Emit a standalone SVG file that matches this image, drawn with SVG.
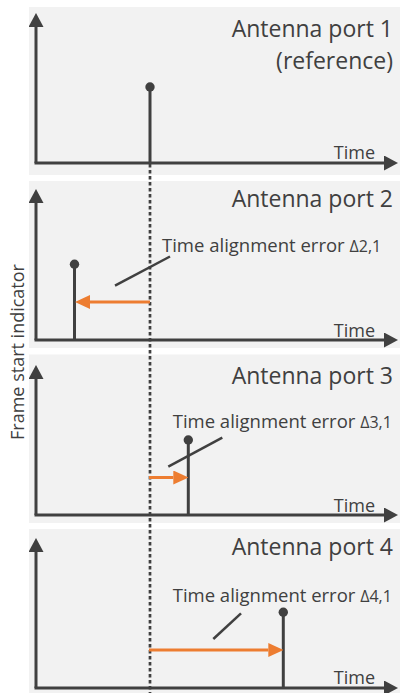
<svg xmlns="http://www.w3.org/2000/svg" width="400" height="693" viewBox="0 0 400 693">
  <style>
    .bg { fill: #F2F2F2; }
    .ax { stroke: #404040; stroke-width: 3; fill: none; }
    .stem { stroke: #404040; stroke-width: 3; fill: none; }
    .dot { fill: #404040; }
    .lead { stroke: #404040; stroke-width: 2.5; fill: none; }
    .err { stroke: #ED7D31; stroke-width: 3; fill: none; }
    .dash { stroke: #404040; stroke-width: 2.7; stroke-dasharray: 3.5 2.5; fill: none; }
    text { font-family: "Open Sans", "Liberation Sans", sans-serif; fill: #404040; }
    .title { font-size: 23px; text-anchor: end; }
    .time { font-size: 18px; text-anchor: end; }
    .lbl { font-size: 18.5px; }
    .d { font-size: 16px; }
  </style>
  <defs>
    <marker id="axh" markerUnits="userSpaceOnUse" markerWidth="15" markerHeight="15" refX="0" refY="7.5" orient="auto">
      <path d="M0,0 L14,7.5 L0,15 z" fill="#404040"/>
    </marker>
    <marker id="orh" markerUnits="userSpaceOnUse" markerWidth="15" markerHeight="14" refX="0" refY="7" orient="auto">
      <path d="M0,0 L15,7 L0,14 z" fill="#ED7D31"/>
    </marker>
  </defs>

  <g id="panel1">
    <rect class="bg" x="29" y="7" width="371" height="168"/>
    <line class="ax" x1="36" y1="163" x2="36" y2="27" marker-end="url(#axh)"/>
    <line class="ax" x1="34.5" y1="163" x2="384" y2="163" marker-end="url(#axh)"/>
    <text class="title" x="393" y="37">Antenna port 1</text>
    <text class="title" x="393" y="69">(reference)</text>
    <text class="time" x="375" y="159">Time</text>
    <line class="stem" x1="150" y1="87" x2="150" y2="163"/>
    <circle class="dot" cx="150" cy="87" r="4.7"/>
  </g>

  <g id="panel2">
    <rect class="bg" x="29" y="181" width="371" height="167"/>
    <line class="ax" x1="36" y1="340" x2="36" y2="203" marker-end="url(#axh)"/>
    <line class="ax" x1="34.5" y1="340" x2="384" y2="340" marker-end="url(#axh)"/>
    <text class="title" x="393" y="207">Antenna port 2</text>
    <text class="time" x="375" y="337">Time</text>
    <line class="stem" x1="74.5" y1="264.3" x2="74.5" y2="340"/>
    <circle class="dot" cx="74.5" cy="264.3" r="4.7"/>
    <text class="lbl" x="162" y="252">Time alignment error <tspan class="d">Δ2,1</tspan></text>
  </g>

  <g id="panel3">
    <rect class="bg" x="29" y="354.5" width="371" height="168.5"/>
    <line class="ax" x1="36" y1="515" x2="36" y2="379" marker-end="url(#axh)"/>
    <line class="ax" x1="34.5" y1="515" x2="384" y2="515" marker-end="url(#axh)"/>
    <text class="title" x="393" y="384">Antenna port 3</text>
    <text class="time" x="375" y="512">Time</text>
    <line class="stem" x1="188.3" y1="440" x2="188.3" y2="515"/>
    <circle class="dot" cx="188.3" cy="440" r="4.7"/>
    <text class="lbl" x="172.7" y="427.5">Time alignment error <tspan class="d">Δ3,1</tspan></text>
  </g>

  <g id="panel4">
    <rect class="bg" x="29" y="529" width="371" height="164"/>
    <line class="ax" x1="36" y1="688" x2="36" y2="552" marker-end="url(#axh)"/>
    <line class="ax" x1="34.5" y1="688" x2="384" y2="688" marker-end="url(#axh)"/>
    <text class="title" x="393" y="555">Antenna port 4</text>
    <text class="time" x="375" y="684">Time</text>
    <line class="stem" x1="283.3" y1="612.3" x2="283.3" y2="688"/>
    <circle class="dot" cx="283.3" cy="612.3" r="4.7"/>
    <text class="lbl" x="172.7" y="602">Time alignment error <tspan class="d">Δ4,1</tspan></text>
  </g>

  <text id="ylabel" x="0" y="0" font-size="18" text-anchor="middle" transform="translate(24,352) rotate(-90)">Frame start indicator</text>

  <g id="connectors">
    <line class="dash" x1="150" y1="164" x2="150" y2="693"/>
    <line class="err" x1="150" y1="302" x2="90" y2="302" marker-end="url(#orh)"/>
    <line class="err" x1="149" y1="477.5" x2="173.3" y2="477.5" marker-end="url(#orh)"/>
    <line class="err" x1="149" y1="650" x2="268.3" y2="650" marker-end="url(#orh)"/>
    <line class="lead" x1="115" y1="285.7" x2="170" y2="256.5"/>
    <line class="lead" x1="168.3" y1="466.7" x2="222.3" y2="437.7"/>
    <line class="lead" x1="213.3" y1="639" x2="241" y2="613.3"/>
  </g>
</svg>
